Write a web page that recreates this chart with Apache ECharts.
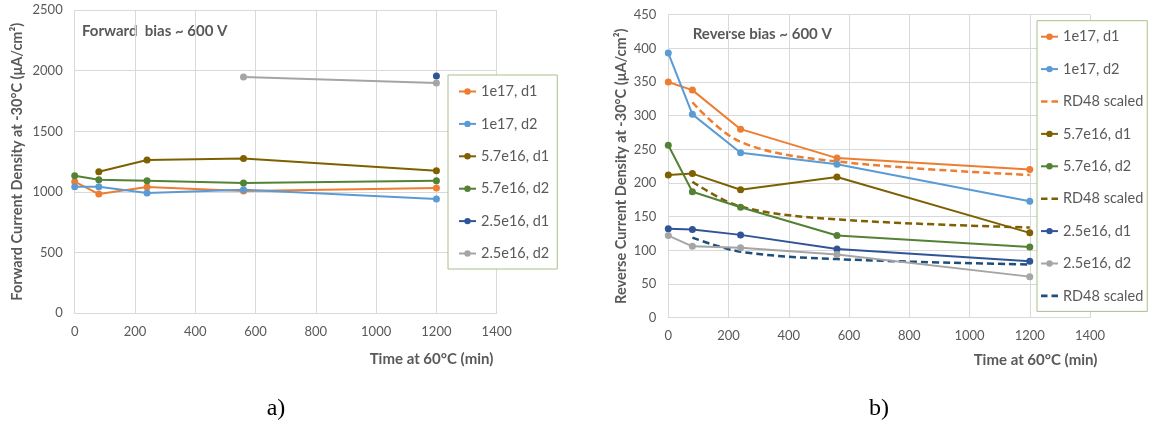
<!DOCTYPE html>
<html>
<head>
<meta charset="utf-8">
<script src="https://cdn.jsdelivr.net/npm/echarts@6/dist/echarts.min.js"></script>
<style>
html,body{margin:0;padding:0;background:#fff;}
#c{width:1151px;height:430px;}
</style>
</head>
<body>
<div id="c"></div>
<script>
// ---- data ----
const times = [0, 80, 240, 560, 1200];

// Forward bias (left)
const fwd_1e17_d1   = [1085, 983, 1041, 1008, 1033];
const fwd_1e17_d2   = [1044, 1044, 992, 1019, 942];
const fwd_57e16_d1  = [null, 1167, 1264, 1275, 1176];
const fwd_57e16_d2  = [1134, 1101, 1093, 1074, 1093];
const fwd_25e16_d1  = [null, null, null, null, 1956];
const fwd_25e16_d2  = [null, null, null, 1948, 1899];

// Reverse bias (right)
const rev_1e17_d1   = [350, 338, 280, 237, 220];
const rev_1e17_d2   = [393, 302, 245, 228, 173];
const rev_1e17_rd48 = [null, 320, 261, 232, 212];
const rev_57e16_d1  = [212, 214, 190, 209, 126];
const rev_57e16_d2  = [256, 187, 164, 122, 105];
const rev_57e16_rd48= [null, 202, 165, 146, 134];
const rev_25e16_d1  = [132, 131, 123, 102, 84];
const rev_25e16_d2  = [122, 106, 104, 94, 61];
const rev_25e16_rd48= [null, 119, 98, 87, 79];

const legendLeft  = ['1e17, d1','1e17, d2','5.7e16, d1','5.7e16, d2','2.5e16, d1','2.5e16, d2'];
const legendRight = ['1e17, d1 ','1e17, d2 ','RD48 scaled#1','5.7e16, d1 ','5.7e16, d2 ','RD48 scaled#2','2.5e16, d1 ','2.5e16, d2 ','RD48 scaled#3'];

const C = {
  orange:'#ED7D31', blue:'#5B9BD5', brown:'#7F6000', green:'#548235',
  navy:'#2F5597', gray:'#A5A5A5', navyDash:'#1F4E79'
};
const FONT = 'Lato, "Open Sans", sans-serif';
const TXT = '#595959';
const GRIDC = '#D9D9D9';
const DASH_ICON = 'path://M0,0h6.5v2.6h-6.5zM10.5,0h6.5v2.6h-6.5z';

function pairs(vals){ return times.map((t,i)=> vals[i]==null ? null : [t, vals[i]]).filter(p=>p); }

function solid(name, vals, color, idx){
  return {
    name, type:'line', xAxisIndex:idx, yAxisIndex:idx, data:pairs(vals),
    symbol:'circle', symbolSize:7, showSymbol:true,
    lineStyle:{color, width:2}, itemStyle:{color},
    animation:false, z:3
  };
}
function dashed(name, vals, color, idx){
  return {
    name, type:'line', xAxisIndex:idx, yAxisIndex:idx, data:pairs(vals),
    symbol:'none', smooth:0.35,
    lineStyle:{color, width:2.5, type:[7,4]}, itemStyle:{color},
    animation:false, z:2
  };
}

const axisLbl = {color:TXT, fontSize:13, fontFamily:FONT, formatter: v => String(v)};
function xAx(idx){
  return {
    type:'value', gridIndex:idx, min:0, max:1400, interval:200,
    axisLine:{show:true, lineStyle:{color:GRIDC}}, axisTick:{show:false},
    axisLabel:Object.assign({margin:12}, axisLbl),
    splitLine:{show:true, lineStyle:{color:GRIDC}}
  };
}
function yAx(idx, max, interval, name, gap){
  return {
    type:'value', gridIndex:idx, min:0, max, interval,
    name, nameLocation:'middle', nameGap:gap, nameRotate:90,
    nameTextStyle:{color:TXT, fontSize:14.5, fontWeight:'bold', fontFamily:FONT},
    axisLine:{show:false}, axisTick:{show:false},
    axisLabel:Object.assign({margin:12}, axisLbl),
    splitLine:{show:true, lineStyle:{color:GRIDC}}
  };
}

const legendCommon = {
  orient:'vertical', itemWidth:17, itemHeight:8, itemGap:17.4,
  borderColor:'#A9C08C', borderWidth:1, backgroundColor:'#fff',
  textStyle:{color:TXT, fontSize:14.5, fontFamily:FONT, lineHeight:14},
  formatter: n => n.replace(/#\d$/,'').trim(),
  selectedMode:false
};
function legendData(names){
  return names.map(n => /^RD48/.test(n) ? {name:n, icon:DASH_ICON} : {name:n});
}

const option = {
  backgroundColor:'#fff',
  animation:false,
  grid:[
    {left:74.7, right:1151-496.7, top:10, bottom:430-313.3},
    {left:668.3, right:1151-1090, top:14.7, bottom:430-317.7}
  ],
  xAxis:[xAx(0), xAx(1)],
  yAxis:[
    yAx(0, 2500, 500, 'Forward Current Density at -30°C (μA/cm²)', 50),
    yAx(1, 450, 50, 'Reverse Current Density at -30°C (μA/cm²)', 39)
  ],
  legend:[
    Object.assign({}, legendCommon, {data:legendData(legendLeft), left:448, top:75, padding:[9,8,8,10]}),
    Object.assign({}, legendCommon, {data:legendData(legendRight), left:1037, top:20.7, padding:[8.5,4,8,3]})
  ],
  graphic:[
    {type:'text', x:82, y:30.7, style:{text:'Forward  bias ~ 600 V', fill:TXT, fontSize:15, fontWeight:'bold', fontFamily:FONT, verticalAlign:'middle'}},
    {type:'text', x:692.7, y:34.3, style:{text:'Reverse bias ~ 600 V', fill:TXT, fontSize:15, fontWeight:'bold', fontFamily:FONT, verticalAlign:'middle'}},
    {type:'text', x:431.5, y:359, style:{text:'Time at 60°C (min)', fill:TXT, fontSize:15, fontWeight:'bold', fontFamily:FONT, align:'center', verticalAlign:'middle'}},
    {type:'text', x:1035.5, y:360, style:{text:'Time at 60°C (min)', fill:TXT, fontSize:15, fontWeight:'bold', fontFamily:FONT, align:'center', verticalAlign:'middle'}},
    {type:'text', x:276, y:409, style:{text:'a)', fill:'#000', fontSize:24, fontFamily:'"Liberation Serif", serif', align:'center', verticalAlign:'middle'}},
    {type:'text', x:879, y:409, style:{text:'b)', fill:'#000', fontSize:24, fontFamily:'"Liberation Serif", serif', align:'center', verticalAlign:'middle'}}
  ],
  series:[
    solid('1e17, d1', fwd_1e17_d1, C.orange, 0),
    solid('1e17, d2', fwd_1e17_d2, C.blue, 0),
    solid('5.7e16, d1', fwd_57e16_d1, C.brown, 0),
    solid('5.7e16, d2', fwd_57e16_d2, C.green, 0),
    solid('2.5e16, d1', fwd_25e16_d1, C.navy, 0),
    solid('2.5e16, d2', fwd_25e16_d2, C.gray, 0),

    solid('1e17, d1 ', rev_1e17_d1, C.orange, 1),
    solid('1e17, d2 ', rev_1e17_d2, C.blue, 1),
    dashed('RD48 scaled#1', rev_1e17_rd48, C.orange, 1),
    solid('5.7e16, d1 ', rev_57e16_d1, C.brown, 1),
    solid('5.7e16, d2 ', rev_57e16_d2, C.green, 1),
    dashed('RD48 scaled#2', rev_57e16_rd48, C.brown, 1),
    solid('2.5e16, d1 ', rev_25e16_d1, C.navy, 1),
    solid('2.5e16, d2 ', rev_25e16_d2, C.gray, 1),
    dashed('RD48 scaled#3', rev_25e16_rd48, C.navyDash, 1)
  ]
};

const chart = echarts.init(document.getElementById('c'), null, {renderer:'canvas'});
chart.setOption(option);
</script>
</body>
</html>
